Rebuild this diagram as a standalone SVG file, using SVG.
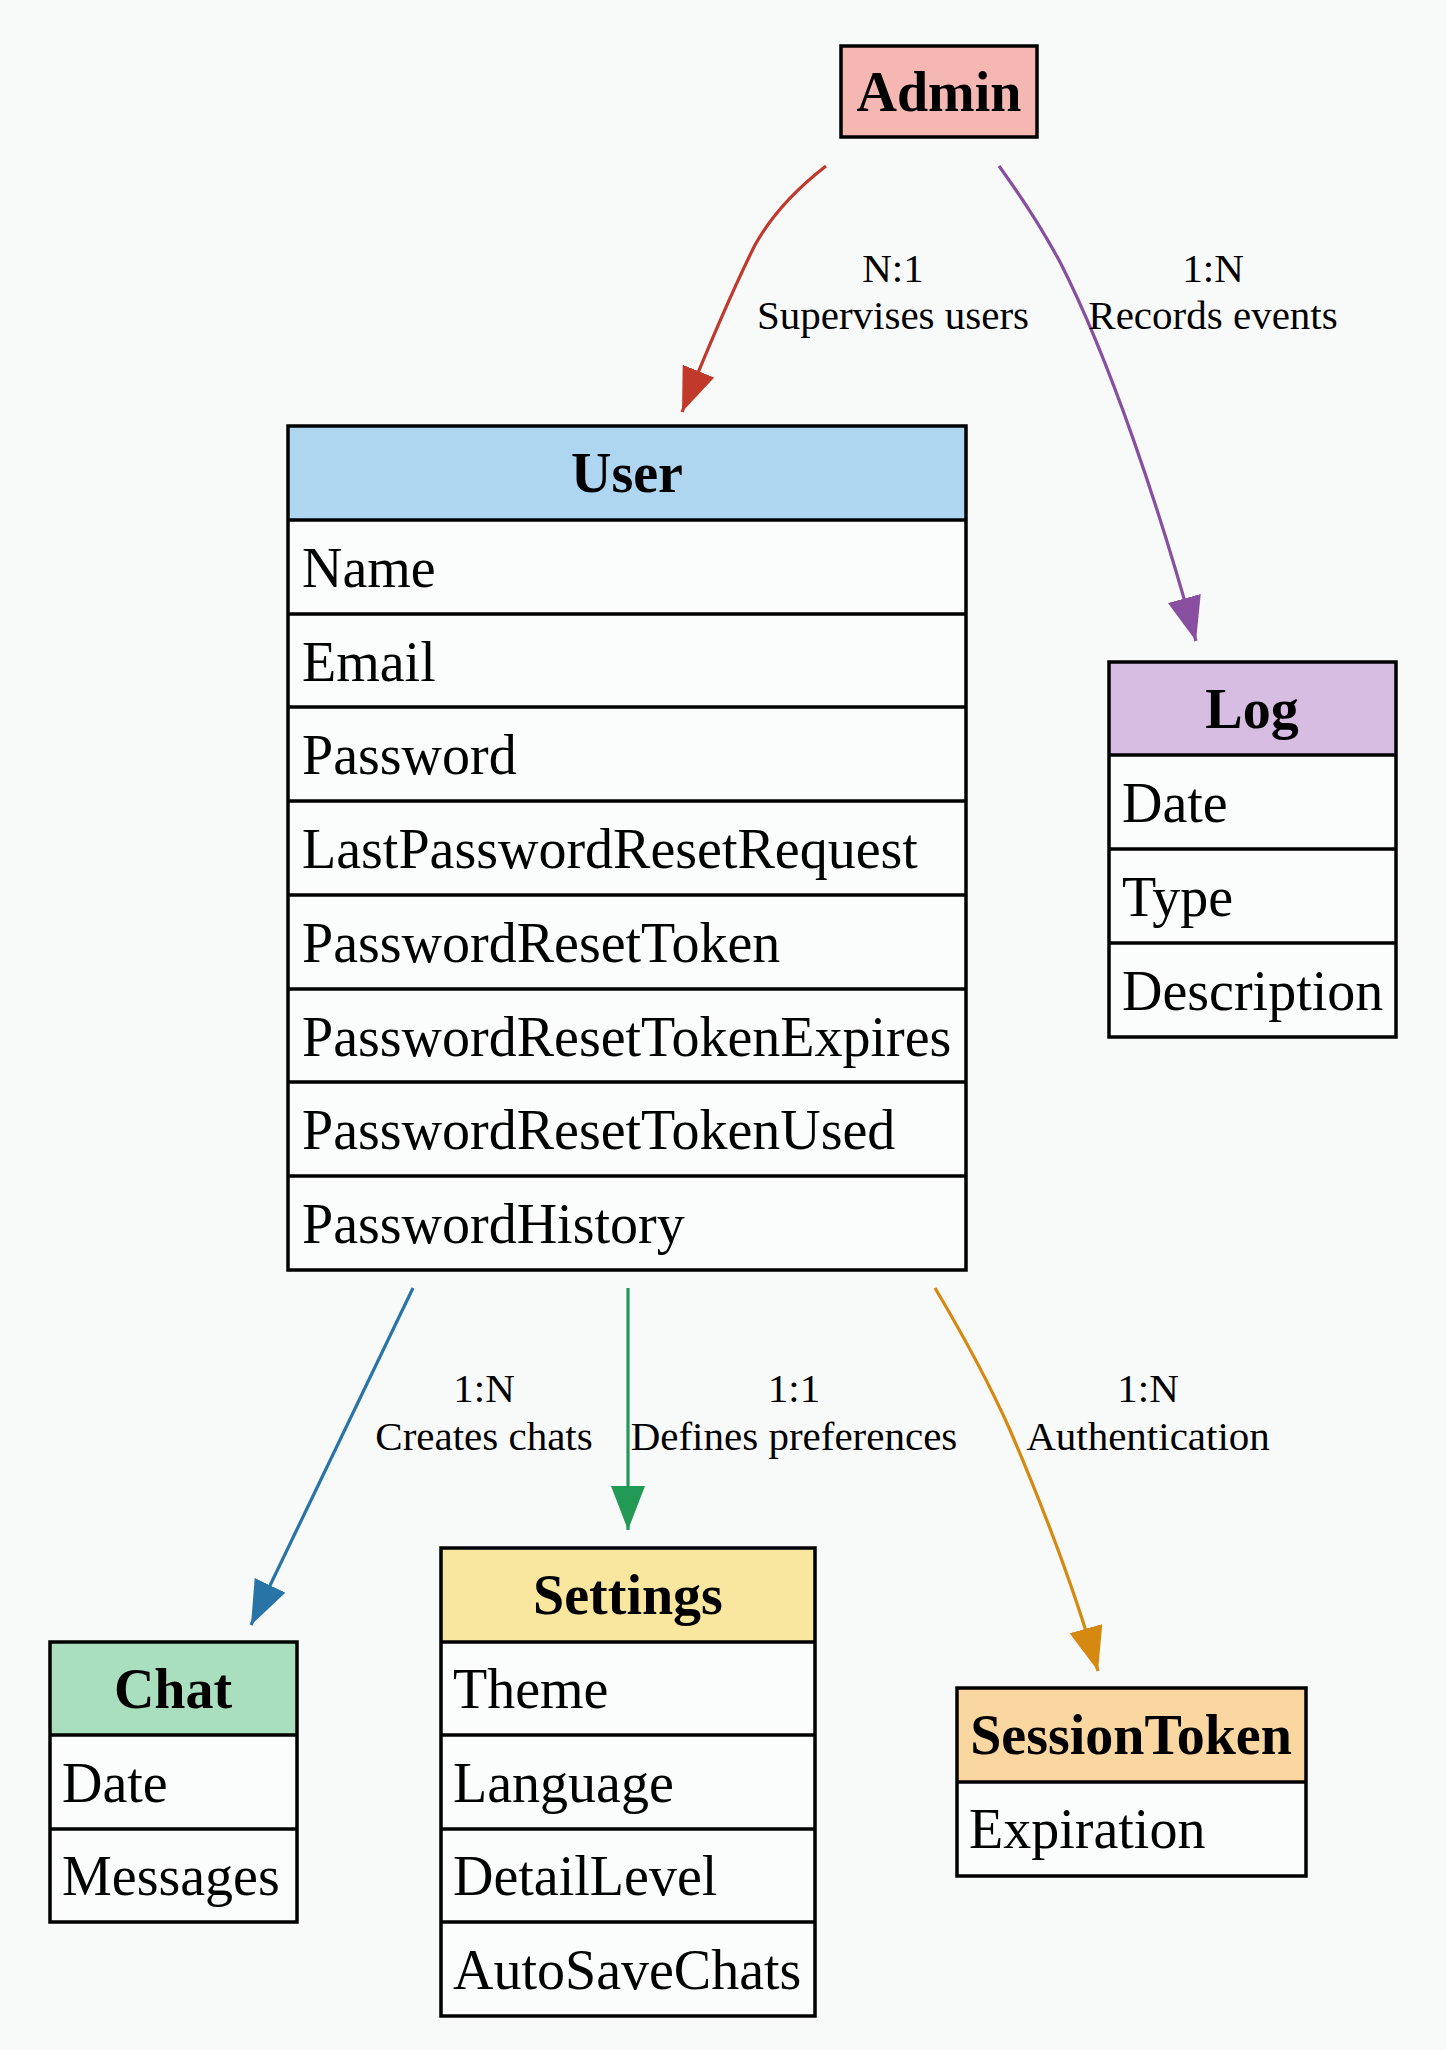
<svg xmlns="http://www.w3.org/2000/svg" width="1446" height="2050" viewBox="0 0 1446 2050">
<style>
.bg{fill:#f8f9f9}
.box{stroke:#000;stroke-width:3.5;fill:none}
.row{fill:#fbfcfc}
.sep{stroke:#000;stroke-width:3.5}
.h{font-family:"Liberation Serif",serif;font-size:56px;font-weight:bold;text-anchor:middle;fill:#000}
.a{font-family:"Liberation Serif",serif;font-size:56px;fill:#000}
.lbl{font-family:"Liberation Serif",serif;font-size:41px;text-anchor:middle;fill:#000}
.e{fill:none;stroke-width:3.2}
</style>
<defs>
<marker id="mr" markerUnits="userSpaceOnUse" markerWidth="46" markerHeight="36" refX="44" refY="17" orient="auto"><path d="M0,0 L44,17 L0,34 z" fill="#c0392b"/></marker>
<marker id="mp" markerUnits="userSpaceOnUse" markerWidth="46" markerHeight="36" refX="44" refY="17" orient="auto"><path d="M0,0 L44,17 L0,34 z" fill="#884ea0"/></marker>
<marker id="mb" markerUnits="userSpaceOnUse" markerWidth="46" markerHeight="36" refX="44" refY="17" orient="auto"><path d="M0,0 L44,17 L0,34 z" fill="#2874a6"/></marker>
<marker id="mg" markerUnits="userSpaceOnUse" markerWidth="46" markerHeight="36" refX="44" refY="17" orient="auto"><path d="M0,0 L44,17 L0,34 z" fill="#229954"/></marker>
<marker id="mo" markerUnits="userSpaceOnUse" markerWidth="46" markerHeight="36" refX="44" refY="17" orient="auto"><path d="M0,0 L44,17 L0,34 z" fill="#d68910"/></marker>
</defs>
<rect class="bg" x="0" y="0" width="1446" height="2050"/>

<g id="connectors">
<path class="e" stroke="#c0392b" marker-end="url(#mr)" d="M826,166 C795,190 770,218 755,245 C735,285 705,355 682,412"/>
<text class="lbl" x="893" y="282">N:1</text>
<text class="lbl" x="893" y="329">Supervises users</text>
<path class="e" stroke="#884ea0" marker-end="url(#mp)" d="M999,166 C1020,195 1040,225 1060,262 C1110,360 1160,510 1196,641"/>
<text class="lbl" x="1213" y="282">1:N</text>
<text class="lbl" x="1213" y="329">Records events</text>
<path class="e" stroke="#2874a6" marker-end="url(#mb)" d="M413,1288 L251,1625"/>
<text class="lbl" x="484" y="1402">1:N</text>
<text class="lbl" x="484" y="1450">Creates chats</text>
<path class="e" stroke="#229954" marker-end="url(#mg)" d="M628,1288 L628,1530"/>
<text class="lbl" x="794" y="1402">1:1</text>
<text class="lbl" x="794" y="1450">Defines preferences</text>
<path class="e" stroke="#d68910" marker-end="url(#mo)" d="M935,1288 C960,1330 990,1385 1010,1430 C1040,1500 1075,1590 1098,1671"/>
<text class="lbl" x="1148" y="1402">1:N</text>
<text class="lbl" x="1148" y="1450">Authentication</text>
</g>

<g id="admin">
<rect x="841" y="46" width="196" height="91" style="fill:#f5b7b1;stroke:#000;stroke-width:3.5"/>
<text class="h" x="939" y="111">Admin</text>
</g>

<g id="user">
<rect x="288" y="426" width="678" height="844" class="row"/>
<rect x="288" y="426" width="678" height="94" fill="#aed6f1"/>
<line class="sep" x1="288" y1="520" x2="966" y2="520"/>
<line class="sep" x1="288" y1="614" x2="966" y2="614"/>
<line class="sep" x1="288" y1="707" x2="966" y2="707"/>
<line class="sep" x1="288" y1="801" x2="966" y2="801"/>
<line class="sep" x1="288" y1="895" x2="966" y2="895"/>
<line class="sep" x1="288" y1="989" x2="966" y2="989"/>
<line class="sep" x1="288" y1="1082" x2="966" y2="1082"/>
<line class="sep" x1="288" y1="1176" x2="966" y2="1176"/>
<rect x="288" y="426" width="678" height="844" class="box"/>
<text class="h" x="627" y="492">User</text>
<text class="a" x="302" y="587">Name</text>
<text class="a" x="302" y="681">Email</text>
<text class="a" x="302" y="774">Password</text>
<text class="a" x="302" y="868">LastPasswordResetRequest</text>
<text class="a" x="302" y="962">PasswordResetToken</text>
<text class="a" x="302" y="1056">PasswordResetTokenExpires</text>
<text class="a" x="302" y="1149">PasswordResetTokenUsed</text>
<text class="a" x="302" y="1243">PasswordHistory</text>
</g>

<g id="log">
<rect x="1109" y="662" width="287" height="375" class="row"/>
<rect x="1109" y="662" width="287" height="93" fill="#d7bde2"/>
<line class="sep" x1="1109" y1="755" x2="1396" y2="755"/>
<line class="sep" x1="1109" y1="849" x2="1396" y2="849"/>
<line class="sep" x1="1109" y1="943" x2="1396" y2="943"/>
<rect x="1109" y="662" width="287" height="375" class="box"/>
<text class="h" x="1252" y="728">Log</text>
<text class="a" x="1122" y="822">Date</text>
<text class="a" x="1122" y="916">Type</text>
<text class="a" x="1122" y="1010">Description</text>
</g>

<g id="chat">
<rect x="50" y="1642" width="247" height="280" class="row"/>
<rect x="50" y="1642" width="247" height="93" fill="#a9dfbf"/>
<line class="sep" x1="50" y1="1735" x2="297" y2="1735"/>
<line class="sep" x1="50" y1="1829" x2="297" y2="1829"/>
<rect x="50" y="1642" width="247" height="280" class="box"/>
<text class="h" x="173" y="1708">Chat</text>
<text class="a" x="62" y="1802">Date</text>
<text class="a" x="62" y="1895">Messages</text>
</g>

<g id="settings">
<rect x="441" y="1548" width="374" height="468" class="row"/>
<rect x="441" y="1548" width="374" height="94" fill="#f9e79f"/>
<line class="sep" x1="441" y1="1642" x2="815" y2="1642"/>
<line class="sep" x1="441" y1="1735" x2="815" y2="1735"/>
<line class="sep" x1="441" y1="1829" x2="815" y2="1829"/>
<line class="sep" x1="441" y1="1922" x2="815" y2="1922"/>
<rect x="441" y="1548" width="374" height="468" class="box"/>
<text class="h" x="628" y="1614">Settings</text>
<text class="a" x="453" y="1708">Theme</text>
<text class="a" x="453" y="1802">Language</text>
<text class="a" x="453" y="1895">DetailLevel</text>
<text class="a" x="453" y="1989">AutoSaveChats</text>
</g>

<g id="sessiontoken">
<rect x="957" y="1688" width="349" height="188" class="row"/>
<rect x="957" y="1688" width="349" height="94" fill="#fad7a0"/>
<line class="sep" x1="957" y1="1782" x2="1306" y2="1782"/>
<rect x="957" y="1688" width="349" height="188" class="box"/>
<text class="h" x="1131" y="1754">SessionToken</text>
<text class="a" x="969" y="1848">Expiration</text>
</g>
</svg>
